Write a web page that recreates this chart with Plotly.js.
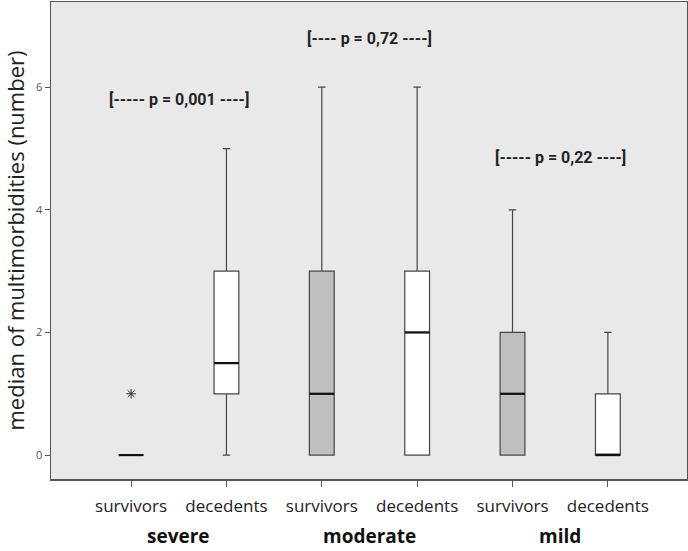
<!DOCTYPE html>
<html>
<head>
<meta charset="utf-8">
<script src="https://cdn.plot.ly/plotly-3.0.1.min.js"></script>
<style>
  html, body { margin: 0; padding: 0; background: #fff; }
  #chart { width: 688px; height: 551px; }
</style>
</head>
<body>
<div id="chart"></div>
<script>
const categories = ['survivors', 'decedents', 'survivors', 'decedents', 'survivors', 'decedents'];
const groups = ['severe', 'moderate', 'mild'];
const pValues = ['[----- p = 0,001 ----]', '[---- p = 0,72 ----]', '[----- p = 0,22 ----]'];
const pValueY = [5.8, 6.8, 4.85];

// box stats per category
const lower = [0, 0, 0, 0, 0, 0];
const q1 = [0, 1, 0, 0, 0, 0];
const median = [0, 1.5, 1, 2, 1, 0];
const q3 = [0, 3, 3, 3, 2, 1];
const upper = [0, 5, 6, 6, 4, 2];
const outliers = [[1], [], [], [], [], []];

const positions = categories.map((c, i) => i);
const boxWidth = 0.26;

function boxTrace(idx, fill) {
  return {
    type: 'box',
    x: idx.map(i => positions[i]),
    q1: idx.map(i => q1[i]),
    median: idx.map(i => median[i]),
    q3: idx.map(i => q3[i]),
    lowerfence: idx.map(i => lower[i]),
    upperfence: idx.map(i => upper[i]),
    width: boxWidth,
    whiskerwidth: 0.3,
    fillcolor: fill,
    line: { color: '#454545', width: 1.2 },
    boxpoints: false,
    hoverinfo: 'skip',
    showlegend: false
  };
}

const survivorsIdx = [0, 2, 4];
const decedentsIdx = [1, 3, 5];

const outX = [], outY = [];
outliers.forEach((arr, i) => arr.forEach(v => { outX.push(positions[i]); outY.push(v); }));

const traces = [
  boxTrace(survivorsIdx, '#bfbfbf'),
  boxTrace(decedentsIdx, '#ffffff'),
  {
    type: 'scatter',
    mode: 'markers',
    x: outX,
    y: outY,
    marker: { symbol: 'asterisk-open', size: 8, color: '#333', line: { color: '#333', width: 1 } },
    showlegend: false,
    hoverinfo: 'skip'
  }
];

// thicker median lines
const shapes = median.map((m, i) => ({
  type: 'line',
  xref: 'x', yref: 'y',
  x0: positions[i] - boxWidth / 2, x1: positions[i] + boxWidth / 2,
  y0: m, y1: m,
  line: { color: '#111', width: 2.2 }
}));

const annotations = [];
groups.forEach((g, k) => {
  const xMid = (positions[2 * k] + positions[2 * k + 1]) / 2;
  annotations.push({
    x: xMid, xref: 'x', y: -0.119, yref: 'paper', yanchor: 'middle',
    text: '<b>' + g + '</b>', showarrow: false,
    font: { family: 'Open Sans, sans-serif', size: 19, color: '#111' }
  });
  annotations.push({
    x: xMid, xref: 'x', y: pValueY[k], yref: 'y',
    text: '<b>' + pValues[k] + '</b>', showarrow: false,
    font: { family: 'Roboto, Liberation Sans, sans-serif', size: 16, color: '#222' }
  });
});

const layout = {
  width: 688,
  height: 551,
  margin: { l: 51, r: 1, t: 2, b: 72 },
  paper_bgcolor: '#ffffff',
  plot_bgcolor: '#e9e9e9',
  font: { family: 'Open Sans, sans-serif', color: '#222' },
  boxmode: 'overlay',
  xaxis: {
    range: [-0.84, 5.83],
    tickvals: positions,
    ticktext: categories,
    ticks: 'outside',
    ticklen: 6,
    tickcolor: '#555',
    ticklabelstandoff: 5,
    tickfont: { family: 'Open Sans, sans-serif', size: 17, color: '#222' },
    showgrid: false,
    zeroline: false,
    showline: true,
    linecolor: '#555',
    linewidth: 1.5,
    mirror: true
  },
  yaxis: {
    range: [-0.39, 7.39],
    tickvals: [0, 2, 4, 6],
    ticks: 'outside',
    ticklen: 5,
    tickcolor: '#555',
    tickfont: { family: 'Open Sans, sans-serif', size: 11, color: '#555' },
    showgrid: false,
    zeroline: false,
    showline: true,
    linecolor: '#555',
    linewidth: 1.5,
    mirror: true,
    title: {
      text: 'median of multimorbidities (number)',
      font: { family: 'Open Sans, sans-serif', size: 22, color: '#222' },
      standoff: 10
    }
  },
  shapes: shapes,
  annotations: annotations
};

Plotly.newPlot('chart', traces, layout, { staticPlot: true, displayModeBar: false });
</script>
</body>
</html>
